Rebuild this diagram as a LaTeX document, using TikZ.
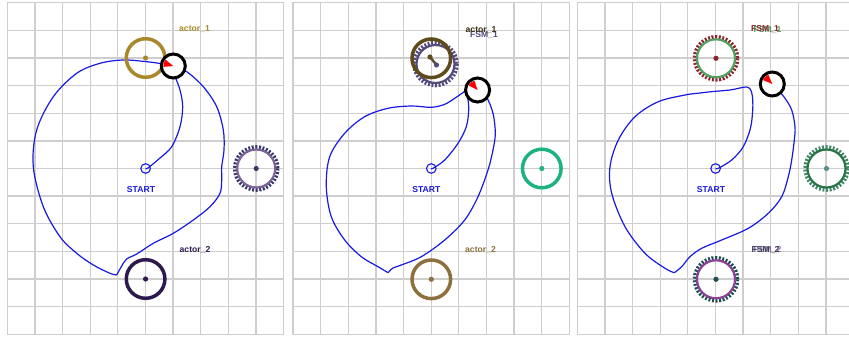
\documentclass[tikz,border=0pt]{standalone}
\usepackage{fontspec}
\setmainfont{Liberation Sans}
\definecolor{gridc}{RGB}{206,206,206}
\definecolor{pathc}{RGB}{25,25,228}
\definecolor{goldc}{RGB}{168,136,42}
\definecolor{darkpur}{RGB}{45,25,78}
\definecolor{gearteeth}{RGB}{55,55,105}
\definecolor{gearring}{RGB}{125,100,155}
\definecolor{brownd}{RGB}{95,75,25}
\definecolor{greyteeth}{RGB}{85,75,125}
\definecolor{greenb}{RGB}{30,178,128}
\definecolor{brownl}{RGB}{142,112,62}
\definecolor{darkred}{RGB}{140,35,45}
\definecolor{greenr}{RGB}{80,160,95}
\definecolor{greend}{RGB}{40,118,70}
\definecolor{greyg}{RGB}{70,135,105}
\definecolor{tealg}{RGB}{90,140,140}
\definecolor{purr}{RGB}{140,65,150}
\definecolor{tealdk}{RGB}{30,78,80}
\definecolor{slate}{RGB}{55,70,85}
\definecolor{purlt}{RGB}{150,100,170}
\newcommand\mygrid[1]{%
  \foreach \i in {0,...,10} \draw[gridline] ({#1+\i*27.63},2.7) -- ({#1+\i*27.63},334.3);
  \foreach \j in {0,...,12} \draw[gridline] (#1,{2.7+\j*27.63}) -- ({#1+276.3},{2.7+\j*27.63});
}
\newcommand\mygear[3]{%
  \draw[teeth, draw=#2] (#1) circle[radius=21];
  \draw[line width=2.2pt, draw=#3] (#1) circle[radius=19];
}
\newcommand\myrobot[2]{%
  \draw[robot] (#1) circle[radius=12];
  \fill[red] (#1) -- ++({#2-22}:10) arc[start angle={#2-22}, end angle={#2+22}, radius=10] -- cycle;
}
\begin{document}
\begin{tikzpicture}[x=1pt,y=-1pt,
  gridline/.style={draw=gridc, line width=1.3pt, line cap=rect},
  trail/.style={draw=pathc, line width=1.2pt, line join=round},
  lbl/.style={font=\bfseries\fontsize{8.6}{10}\selectfont, inner sep=0pt},
  ring/.style={line width=3.5pt},
  teeth/.style={line width=4.6pt, dash pattern=on 1.9pt off 1.6pt},
  robot/.style={draw=black, fill=white, line width=3pt},
  startc/.style={draw=pathc, line width=1.1pt},
]
\useasboundingbox (0,0) rectangle (849,337);
\clip (0,0) rectangle (849,337);
\fill[white] (0,0) rectangle (849,337);

% ---------------- panel 1 ----------------
\mygrid{7.3}
\coordinate (s1) at (145.6,168.5);
\coordinate (a1) at (145.6,58);
\coordinate (b1) at (145.6,279);
\coordinate (g1) at (256.2,168.5);
\coordinate (r1) at (173.3,66);
\draw[trail] plot[smooth, tension=0.55] coordinates {(145.6,168.5) (148,168) (160,158) (171.7,146.7) (180,126.7) (182.7,106.7) (180,90) (175,76) (173.3,66)};
\draw[trail] plot[smooth, tension=0.55] coordinates {(173.3,66) (186.7,71.7) (203.3,86.7) (216.7,106.7) (223.3,130) (224,150) (221.7,166.7) (221.7,180) (220,193.3) (210,206.7) (193.3,220) (173.3,233.3) (153.3,243.3) (136.7,254) (126.7,259) (121.7,266) (116.7,275)};
\draw[trail] plot[smooth, tension=0.55] coordinates {(116.7,275) (110,273.3) (93.3,265) (76.7,253.3) (60,236.7) (43.3,206.7) (33.3,166.7) (36.7,130) (53.3,96.7) (76.7,73.3) (100,63.3) (123.3,60) (146.7,61.7) (163.3,64) (173.3,66)};
\draw[ring, draw=goldc] (a1) circle[radius=19.3];
\fill[goldc] (a1) circle[radius=2.6];
\draw[ring, draw=darkpur] (b1) circle[radius=19.3];
\fill[darkpur] (b1) circle[radius=2.6];
\mygear{g1}{gearteeth}{gearring}
\fill[gearteeth] (g1) circle[radius=2.6];
\draw[startc] (s1) circle[radius=4.8];
\myrobot{r1}{197}
\node[lbl, text=goldc] (t1a) at (194.5,29.5) {actor\_1};
\node[lbl, text=darkpur] (t1b) at (195,250) {actor\_2};
\node[lbl, text=pathc] (t1s) at (141,189.7) {START};

% ---------------- panel 2 ----------------
\mygrid{293}
\coordinate (s2) at (431.3,168.5);
\coordinate (a2) at (431.3,58.3);
\coordinate (a2b) at (435.5,64);
\coordinate (b2) at (431.3,279.3);
\coordinate (g2) at (541.8,168.5);
\coordinate (r2) at (477.6,90);
\coordinate (d2a) at (430,57);
\coordinate (d2b) at (436.5,65);
\draw[trail] plot[smooth, tension=0.55] coordinates {(431.3,168.5) (433,168.3) (444.7,160) (458,143.3) (466.3,126.7) (468.7,110) (467.5,97) (464.5,91.5)};
\draw[trail] plot[smooth, tension=0.55] coordinates {(464.5,91.5) (454.7,98.3) (444.7,104.3) (431.3,107.3) (411.3,106) (388,108.3) (364.7,116.7) (344.7,133.3) (329.7,156.7) (326.3,186.7) (331.3,216.7) (344.7,240) (361.3,256.7) (378,266.7) (388,272.7)};
\draw[trail] plot[smooth, tension=0.55] coordinates {(388,272.7) (393,268) (401.3,265) (421.3,256.7) (444.7,240) (464.7,220) (478,196.7) (488,170) (493,150) (495.3,133.3) (493,113.3) (486.3,96.7) (477.6,90)};
\mygear{a2b}{greyteeth}{greyteeth}
\draw[ring, draw=brownd] (a2) circle[radius=19.3];
\draw[line width=2.4pt, draw=brownd!70!greyteeth] (d2a) -- (d2b);
\fill[brownd] (d2a) circle[radius=2.6];
\fill[greyteeth] (d2b) circle[radius=2.6];
\draw[ring, draw=greenb] (g2) circle[radius=19.3];
\fill[greenb] (g2) circle[radius=2.6];
\draw[ring, draw=brownl] (b2) circle[radius=19.3];
\fill[brownl] (b2) circle[radius=2.6];
\draw[startc] (s2) circle[radius=4.8];
\myrobot{r2}{229}
\node[lbl, text=greyteeth] (t2f) at (484,35) {FSM\_1};
\node[lbl, text=brownd!60!black] (t2a) at (481,30.5) {actor\_1};
\node[lbl, text=brownl] (t2b) at (480.5,250) {actor\_2};
\node[lbl, text=pathc] (t2s) at (426.3,190) {START};

% ---------------- panel 3 ----------------
\mygrid{577.3}
\coordinate (s3) at (715.6,168.5);
\coordinate (a3) at (716,58.3);
\coordinate (b3) at (716,279.3);
\coordinate (g3) at (826.5,168.5);
\coordinate (r3) at (772.3,84);
\draw[trail] plot[smooth, tension=0.55] coordinates {(715.6,168.5) (718.3,168.3) (731.7,160) (743.3,146.7) (750.5,128) (752.7,110) (752.5,97) (750.5,89.5) (746.5,87) (740,88) (730,90) (713.3,91.5) (700,93) (685,95) (658.3,101.7) (635,116.7) (618.3,140) (610,166.7) (611.7,193.3) (625,226.7) (645,253.3) (665,268.3) (674.3,272.7)};
\draw[trail] plot[smooth, tension=0.55] coordinates {(674.3,272.7) (681.7,266.7) (690,256.7) (701.7,248.3) (721.7,240) (748.3,228.3) (768.3,213.3) (781.7,196.7) (788.3,176.7) (791.7,160) (794.3,140) (795,126.7) (791.7,110) (785,98.3) (776.7,88.3) (772.3,84)};
\mygear{a3}{darkred}{greenr}
\fill[darkred] (a3) circle[radius=2.6];
\mygear{g3}{greyg}{greend}
\fill[tealg] (g3) circle[radius=2.6];
\mygear{b3}{tealdk}{purr}
\fill[tealdk] (b3) circle[radius=2.6];
\draw[startc] (s3) circle[radius=4.8];
\myrobot{r3}{225}
\node[lbl, text=greenr] (t3g) at (767.5,29.6) {FSM\_1};
\node[lbl, text=darkred] (t3a) at (765,29.3) {FSM\_1};
\node[lbl, text=purlt] (t3p) at (767.5,250.3) {FSM\_2};
\node[lbl, text=slate] (t3b) at (765.5,250) {FSM\_2};
\node[lbl, text=pathc] (t3s) at (711,190) {START};
\end{tikzpicture}
\end{document}
